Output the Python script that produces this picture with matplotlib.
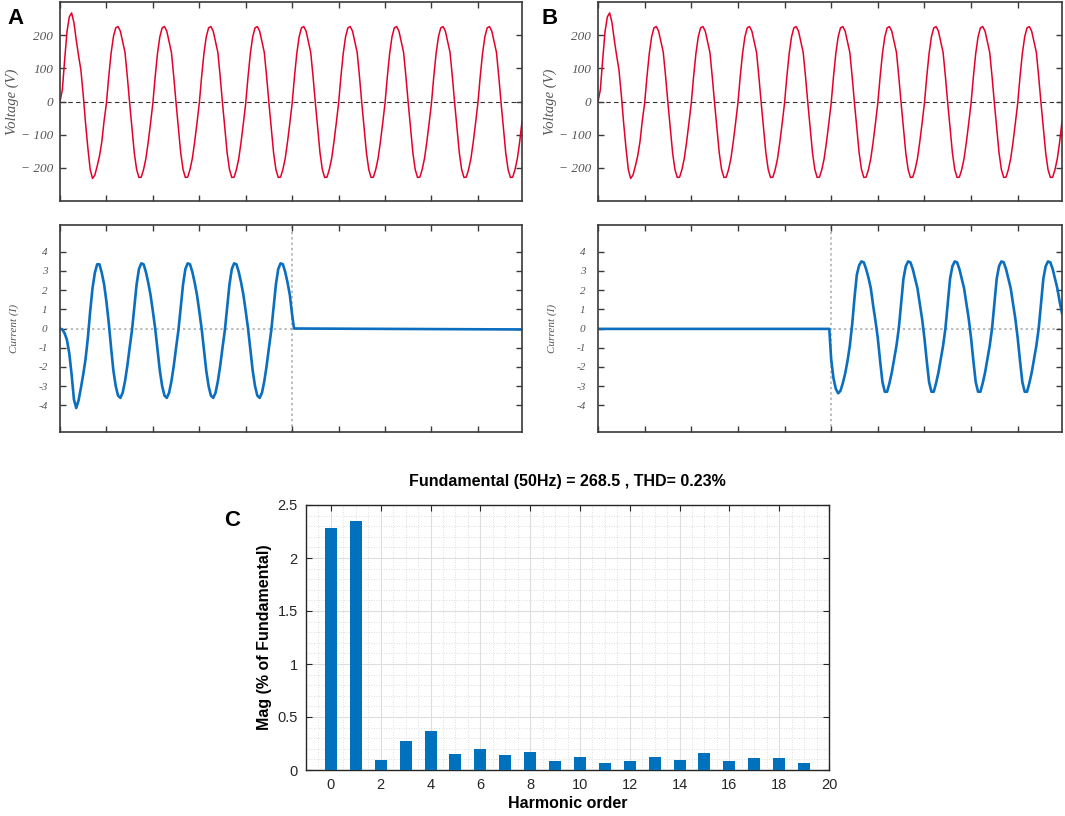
import numpy as np
import matplotlib.pyplot as plt
from matplotlib.ticker import MultipleLocator, FormatStrFormatter

# waveform samples, 1 ms apart (50 Hz -> 20 samples per cycle)
dt_ms = 1.0
t_end_ms = 199
switch_ms = 100

voltage_v = [
    0, 35, 125, 210, 255, 267, 238, 185, 138, 95, 20, -65, -140, -205, -232, -222, -195, -165, -122, -58,
    -5, 75, 145, 195, 222, 226, 212, 180, 148, 75, -5, -80, -155, -205, -229, -228, -205, -172, -122, -65,
    -5, 75, 145, 195, 222, 226, 212, 180, 148, 75, -5, -80, -155, -205, -229, -228, -205, -172, -122, -65,
    -5, 75, 145, 195, 222, 226, 212, 180, 148, 75, -5, -80, -155, -205, -229, -228, -205, -172, -122, -65,
    -5, 75, 145, 195, 222, 226, 212, 180, 148, 75, -5, -80, -155, -205, -229, -228, -205, -172, -122, -65,
    -5, 75, 145, 195, 222, 226, 212, 180, 148, 75, -5, -80, -155, -205, -229, -228, -205, -172, -122, -65,
    -5, 75, 145, 195, 222, 226, 212, 180, 148, 75, -5, -80, -155, -205, -229, -228, -205, -172, -122, -65,
    -5, 75, 145, 195, 222, 226, 212, 180, 148, 75, -5, -80, -155, -205, -229, -228, -205, -172, -122, -65,
    -5, 75, 145, 195, 222, 226, 212, 180, 148, 75, -5, -80, -155, -205, -229, -228, -205, -172, -122, -65,
    -5, 75, 145, 195, 222, 226, 212, 180, 148, 75, -5, -80, -155, -205, -229, -228, -205, -172, -122, -60,
]

# case A: load connected for the first 100 ms
current_a_on = [
    0.0, -0.05, -0.25, -0.6, -1.3, -2.4, -3.7, -4.15, -3.75, -3.1, -2.4, -1.6, -0.5, 0.9, 2.1, 2.9, 3.35, 3.35, 2.9, 2.3,
    1.4, 0.3, -1.0, -2.2, -3.0, -3.5, -3.62, -3.35, -2.75, -1.95, -1.0, -0.1, 1.1, 2.3, 3.1, 3.4, 3.35, 2.95, 2.4, 1.75,
    0.9, 0.0, -1.1, -2.2, -3.0, -3.5, -3.62, -3.35, -2.75, -1.95, -1.0, -0.1, 1.1, 2.3, 3.1, 3.4, 3.35, 2.95, 2.4, 1.75,
    0.9, 0.0, -1.1, -2.2, -3.0, -3.5, -3.62, -3.35, -2.75, -1.95, -1.0, -0.1, 1.1, 2.3, 3.1, 3.4, 3.35, 2.95, 2.4, 1.75,
    0.9, 0.0, -1.1, -2.2, -3.0, -3.5, -3.62, -3.35, -2.75, -1.95, -1.0, -0.1, 1.1, 2.3, 3.1, 3.4, 3.35, 2.95, 2.4, 1.75,
    0.7,
]
current_a_off_t = [100.8, 199]
current_a_off = [0.0, -0.05]

# case B: load connected from 100 ms on
current_b_off_t = [0, 99.2]
current_b_off = [-0.02, -0.02]
current_b_on = [
    -1.6, -2.6, -3.15, -3.38, -3.25, -2.85, -2.35, -1.7, -0.9, 0.2, 1.6, 2.8, 3.3, 3.5, 3.45, 3.1, 2.65, 2.1, 1.2, 0.4,
    -0.5, -1.7, -2.8, -3.3, -3.3, -2.85, -2.3, -1.6, -0.9, 0.0, 1.3, 2.6, 3.25, 3.5, 3.45, 3.1, 2.6, 2.1, 1.3, 0.5,
    -0.5, -1.7, -2.8, -3.3, -3.3, -2.85, -2.3, -1.6, -0.9, 0.0, 1.3, 2.6, 3.25, 3.5, 3.45, 3.1, 2.6, 2.1, 1.3, 0.5,
    -0.5, -1.7, -2.8, -3.3, -3.3, -2.85, -2.3, -1.6, -0.9, 0.0, 1.3, 2.6, 3.25, 3.5, 3.45, 3.1, 2.6, 2.1, 1.3, 0.5,
    -0.5, -1.7, -2.8, -3.3, -3.3, -2.85, -2.3, -1.6, -0.9, 0.0, 1.3, 2.6, 3.25, 3.5, 3.45, 3.1, 2.6, 2.1, 1.4, 0.8,
]

# FFT result
harmonic_order = list(range(20))
mag_pct = [2.28, 2.35, 0.097, 0.27, 0.37, 0.153, 0.197, 0.14, 0.166, 0.081,
           0.125, 0.0625, 0.081, 0.122, 0.094, 0.163, 0.081, 0.116, 0.1125, 0.069]
fft_title = "Fundamental (50Hz) = 268.5 , THD= 0.23%"

v_ticks = [-200, -100, 0, 100, 200]
v_ticklabels = ["\u2212 200", "\u2212 100", "0", "100", "200"]
i_ticks = [-4, -3, -2, -1, 0, 1, 2, 3, 4]
i_ticklabels = ["-4", "-3", "-2", "-1", "0", "1", "2", "3", "4"]

RED = "#e4002b"
BLUE = "#0b6ebf"
FRAME = "#3a3a3a"
LABEL = "#555555"
serif = ["Liberation Serif", "DejaVu Serif"]
narrow = ["Liberation Sans Narrow", "Liberation Sans", "DejaVu Sans"]

W, H = 1065, 816
fig = plt.figure(figsize=(W / 100, H / 100), dpi=100)


def px_axes(l, t, r, b):
    return fig.add_axes([l / W, 1 - b / H, (r - l) / W, (b - t) / H])


def style_wave(ax, ylim, ticks, labels, size, pad):
    ax.set_xlim(0, t_end_ms)
    ax.set_ylim(*ylim)
    ax.xaxis.set_major_locator(MultipleLocator(20))
    ax.set_yticks(ticks)
    ax.set_yticklabels(labels, family=serif, style="italic", size=size, color=LABEL)
    ax.tick_params(direction="in", length=4, width=1.0, color=FRAME,
                   top=True, right=True, labelbottom=False, pad=pad)
    for s in ax.spines.values():
        s.set_color(FRAME)
        s.set_linewidth(1.2)


t_v = np.arange(len(voltage_v)) * dt_ms
t_a = np.concatenate([np.arange(len(current_a_on)) * dt_ms, current_a_off_t])
i_a = np.concatenate([current_a_on, current_a_off])
t_b = np.concatenate([current_b_off_t, switch_ms + np.arange(len(current_b_on)) * dt_ms])
i_b = np.concatenate([current_b_off, current_b_on])

panels = [
    (60, 522, t_a, i_a, "A", 15),
    (598, 1062, t_b, i_b, "B", 550),
]
for left, right, t_i, i_vals, letter, letter_x in panels:
    axv = px_axes(left, 2, right, 201)
    axv.axhline(0, color="#333333", lw=0.8, ls=(0, (4, 3)), zorder=1)
    axv.plot(t_v, voltage_v, color=RED, lw=1.1, zorder=2)
    style_wave(axv, (-300, 300), v_ticks, v_ticklabels, 9.5, 5)
    axv.set_ylabel("Voltage (V)", family=serif, style="italic", size=10.5, color=LABEL)
    axv.yaxis.set_label_coords(-0.088, 0.5)

    axi = px_axes(left, 225, right, 432)
    axi.axhline(0, color="#a8a8a8", lw=1.1, ls=(0, (1.5, 2)), zorder=1)
    axi.axvline(switch_ms, color="#a8a8a8", lw=1.1, ls=(0, (1.5, 2)), zorder=1)
    axi.plot(t_i, i_vals, color=BLUE, lw=1.9, zorder=2)
    style_wave(axi, (-5.4, 5.4), i_ticks, i_ticklabels, 8, 9)
    axi.set_ylabel("Current (I)", family=serif, style="italic", size=8, color=LABEL)
    axi.yaxis.set_label_coords(-0.088, 0.5)

    fig.text(letter_x / W, 1 - 18 / H, letter, ha="center", va="center",
             family="Liberation Sans", weight="bold", size=16)

# harmonic spectrum
axc = px_axes(306, 505, 829, 770)
axc.set_axisbelow(True)
axc.bar(harmonic_order, mag_pct, width=0.48, color="#0072bd", zorder=3)
axc.set_xlim(-1, 20)
axc.set_ylim(0, 2.5)
axc.xaxis.set_major_locator(MultipleLocator(2))
axc.xaxis.set_minor_locator(MultipleLocator(0.5))
axc.yaxis.set_major_locator(MultipleLocator(0.5))
axc.yaxis.set_minor_locator(MultipleLocator(0.1))
axc.yaxis.set_major_formatter(FormatStrFormatter("%g"))
axc.grid(which="major", color="#dedede", lw=0.8)
axc.grid(which="minor", color="#d4d4d4", lw=0.6, ls=(0, (1, 2)))
axc.tick_params(which="major", direction="in", length=4, width=0.8, color="#262626",
                top=True, right=True, labelsize=10.5, labelcolor="#262626", pad=6)
axc.tick_params(which="minor", length=0)
for lab in axc.get_xticklabels() + axc.get_yticklabels():
    lab.set_family("Liberation Sans")
for s in axc.spines.values():
    s.set_color("#262626")
    s.set_linewidth(1.0)
axc.set_title(fft_title, family=narrow, weight="bold", size=11.5, pad=14)
axc.set_xlabel("Harmonic order", family=narrow, weight="bold", size=11.5, labelpad=3)
axc.set_ylabel("Mag (% of Fundamental)", family=narrow, weight="bold", size=11.5, labelpad=4)
fig.text(232 / W, 1 - 521 / H, "C", ha="center", va="center",
         family="Liberation Sans", weight="bold", size=16)

fig.savefig("out.png", dpi=100, facecolor="white")
